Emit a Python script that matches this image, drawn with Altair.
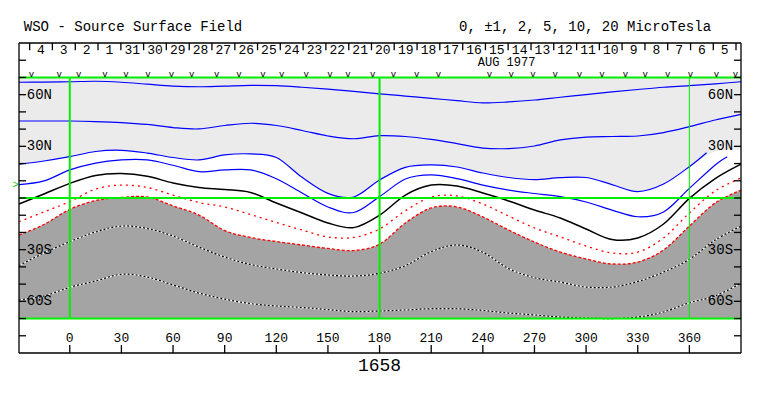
import altair as alt
import pandas as pd

FONT = "Liberation Mono"
INTERP = "cardinal"

# ---- contour data (latitude in degrees) ----
LON = [-29.5, -15, 0, 15, 30, 45, 60, 75, 90, 105, 120, 135, 150, 165, 180,
       195, 210, 225, 240, 255, 270, 285, 300, 315, 330, 345, 360, 375, 390]

BLUE_1 = [67.2, 67.3, 67.5, 67.8, 67.2, 66.1, 65.0, 64.6, 65.0, 65.4, 65.2, 64.3, 63.2, 61.9, 60.5,
          59.2, 57.9, 56.5, 55.2, 55.8, 56.9, 58.5, 60.0, 61.6, 63.0, 64.3, 65.2, 66.3, 67.5]
BLUE_2 = [44.7, 44.7, 44.7, 44.4, 43.8, 42.7, 40.9, 40.1, 42.1, 43.4, 42.1, 39.2, 36.0, 34.4, 36.2,
          35.7, 34.0, 31.6, 29.0, 28.7, 30.2, 33.7, 35.4, 35.7, 36.0, 38.0, 41.4, 45.3, 48.6]
BLUE_3_LON = LON[:-2] + [370]
BLUE_3 = [19.6, 21.5, 24.0, 27.0, 27.7, 26.1, 23.5, 22.1, 25.0, 25.6, 23.5, 12.0, 2.7, 0.6, 10.5,
          17.8, 19.2, 18.0, 14.5, 11.9, 10.7, 11.8, 11.9, 7.8, 3.7, 8.1, 18.2, 26.3]
BLUE_4_LON = LON[:-1] + [382]
BLUE_4 = [7.8, 9.9, 16.3, 20.3, 22.1, 22.1, 19.0, 15.3, 16.3, 16.3, 11.2, 2.9, -5.2, -8.4, 0.8,
          11.0, 13.4, 11.3, 7.5, 4.6, 2.6, 0.8, -2.3, -7.0, -10.9, -8.1, 5.6, 19.2, 24.0]
NEUTRAL = [-3.5, 2.3, 8.5, 13.1, 14.2, 12.6, 8.7, 6.1, 4.9, 3.2, -2.9, -8.7, -14.5, -17.2, -10.0,
           1.7, 7.5, 7.0, 2.9, -1.7, -7.0, -11.6, -18.0, -24.1, -23.2, -15.1, -0.2, 11.3, 19.7]
RED_1 = [-13.8, -8.1, -2.1, 5.2, 7.5, 6.1, 1.7, -2.6, -5.2, -9.6, -14.2, -18.6, -22.6, -22.9, -18.0,
         -7.4, 0.6, 1.2, -3.5, -10.5, -17.4, -22.6, -27.9, -31.9, -31.4, -23.2, -8.7, 4.1, 11.6]
RED_2 = [-21.5, -15.4, -6.6, -1.5, 0.3, 0.6, -4.6, -9.9, -18.9, -22.9, -25.3, -27.3, -29.3, -30.5, -26.8,
         -14.5, -5.8, -5.2, -11.0, -18.6, -25.6, -31.4, -35.4, -38.3, -37.2, -30.2, -16.3, -2.9, 4.6]
DOT_1 = [-39.2, -31.9, -25.4, -19.7, -16.3, -17.7, -22.1, -28.5, -34.3, -38.6, -41.2, -43.3, -44.7, -45.3, -43.7,
         -39.3, -31.2, -27.3, -31.5, -41.0, -46.3, -48.8, -51.7, -51.7, -48.5, -43.0, -35.6, -24.4, -16.3]
DOT_2 = [-59.2, -56.9, -51.9, -48.2, -44.3, -45.9, -50.5, -55.2, -58.7, -61.3, -62.7, -63.6, -64.8, -66.0, -65.6,
         -65.0, -64.3, -64.3, -65.3, -66.8, -67.9, -69.1, -69.7, -70.0, -69.1, -66.2, -60.8, -56.9, -49.5]
LIGHT_EDGE = BLUE_3[:-1] + [27.0, 28.0]

# ---- annotation data ----
DAY_LABELS = ["4", "3", "2", "1", "31", "30", "29", "28", "27", "26", "25", "24", "23", "22", "21",
              "20", "19", "18", "17", "16", "15", "14", "13", "12", "11", "10", "9", "8", "7", "6", "5"]
DAY_CENTERS = [-16.7, -3.5, 9.8, 23.0, 36.3, 49.5, 62.8, 76.0, 89.2, 102.5, 115.7, 129.0, 142.2, 155.4,
               168.7, 181.9, 195.2, 208.4, 221.6, 234.9, 248.1, 261.4, 274.6, 287.8, 301.1, 314.3,
               327.6, 340.8, 354.0, 367.3, 380.5]
DAY_BOUNDS = [-23.3, -10.1, 3.2, 16.4, 29.7, 42.9, 56.1, 69.4, 82.6, 95.9, 109.1, 122.3, 135.6, 148.8,
              162.1, 175.3, 188.5, 201.8, 215.0, 228.3, 241.5, 254.7, 268.0, 281.2, 294.5, 307.7,
              320.9, 334.2, 347.4, 360.7, 373.9, 387.1]
OBS_MARKS = [-22.3, -6.2, 5.2, 20.4, 32.6, 45.4, 59.1, 70.8, 85.3, 98.3, 112.2, 123.1, 137.3, 151.2,
             161.7, 176.0, 188.0, 201.6, 214.2, 243.9, 256.5, 269.1, 282.1, 296.2, 309.2, 322.8,
             334.4, 347.4, 360.6, 375.7, 386.8]
LON_TICKS = [0, 30, 60, 90, 120, 150, 180, 210, 240, 270, 300, 330, 360]
LAT_TICKS = [-80, -70, -60, -50, -40, -30, -20, -10, 0, 10, 20, 30, 40, 50, 60, 70, 80]
LAT_LABELS = ["60N", "30N", "30S", "60S"]
LAT_LABEL_VALUES = [60, 30, -30, -60]
TITLE_LEFT = "WSO - Source Surface Field"
TITLE_RIGHT = "0, \u00b11, 2, 5, 10, 20 MicroTesla"
MONTH = "AUG 1977"
ROTATION = "1658"

XMIN, XMAX, YMIN, YMAX = -29.5, 390, -90, 90

xs = alt.Scale(domain=[XMIN, XMAX], nice=False, zero=False)
ys = alt.Scale(domain=[YMIN, YMAX], nice=False, zero=False)


def X(f):
    return alt.X(f, type="quantitative", scale=xs, axis=None)


def Y(f):
    return alt.Y(f, type="quantitative", scale=ys, axis=None)


def curve_df(items):
    rows = []
    for name, lons, lats in items:
        for lo, la in zip(lons, lats):
            rows.append({"curve": name, "lon": lo, "lat": la})
    return pd.DataFrame(rows)


fill_df = pd.DataFrame({"lon": LON, "light": LIGHT_EDGE, "dark": RED_2,
                        "top": [70] * len(LON), "bottom": [-70] * len(LON)})

light = alt.Chart(fill_df).mark_area(color="#ebebeb", interpolate=INTERP).encode(
    x=X("lon"), y=Y("top"), y2="light")
dark = alt.Chart(fill_df).mark_area(color="#a4a4a4", interpolate=INTERP).encode(
    x=X("lon"), y=Y("bottom"), y2="dark")

blue_df = curve_df([("b1", LON, BLUE_1), ("b2", LON, BLUE_2),
                    ("b3", BLUE_3_LON, BLUE_3), ("b4", BLUE_4_LON, BLUE_4)])
blue = alt.Chart(blue_df).mark_line(color="#0000ff", strokeWidth=1.2, interpolate=INTERP).encode(
    x=X("lon"), y=Y("lat"), detail="curve")
black = alt.Chart(curve_df([("n", LON, NEUTRAL)])).mark_line(
    color="black", strokeWidth=1.5, interpolate=INTERP).encode(x=X("lon"), y=Y("lat"))
red1 = alt.Chart(curve_df([("r1", LON, RED_1)])).mark_line(
    color="#ff0000", strokeWidth=1.3, strokeDash=[2, 4], interpolate=INTERP).encode(x=X("lon"), y=Y("lat"))
red2 = alt.Chart(curve_df([("r2", LON, RED_2)])).mark_line(
    color="#ff0000", strokeWidth=1.3, strokeDash=[3, 2], interpolate=INTERP).encode(x=X("lon"), y=Y("lat"))
dots_df = curve_df([("d1", LON, DOT_1), ("d2", LON, DOT_2)])
dots_w = alt.Chart(dots_df).mark_line(color="white", strokeWidth=1.2, interpolate=INTERP).encode(
    x=X("lon"), y=Y("lat"), detail="curve")
dots_b = alt.Chart(dots_df).mark_line(color="black", strokeWidth=1.2, strokeDash=[2, 2],
                                      interpolate=INTERP).encode(x=X("lon"), y=Y("lat"), detail="curve")

# green reference lines
green_rows = []
for lo, w in zip([0, 180, 360], [2, 2, 1]):
    green_rows.append({"lon": lo, "lon2": lo, "lat": -70, "lat2": 70, "w": w})
for la in [70, 0, -70]:
    green_rows.append({"lon": XMIN, "lon2": XMAX, "lat": la, "lat2": la, "w": 2})
green = alt.Chart(pd.DataFrame(green_rows)).mark_rule(color="#00ee00").encode(
    x=X("lon"), x2="lon2", y=Y("lat"), y2="lat2", strokeWidth=alt.StrokeWidth("w:Q", scale=None))

# frame and ticks
tick_rows = [
    {"lon": XMIN, "lon2": XMAX, "lat": YMAX, "lat2": YMAX},
    {"lon": XMIN, "lon2": XMAX, "lat": YMIN, "lat2": YMIN},
    {"lon": XMIN, "lon2": XMIN, "lat": YMIN, "lat2": YMAX},
    {"lon": XMAX, "lon2": XMAX, "lat": YMIN, "lat2": YMAX},
]
for la in LAT_TICKS:
    tick_rows.append({"lon": XMIN, "lon2": XMIN + 4.1, "lat": la, "lat2": la})
    tick_rows.append({"lon": XMAX - 4.1, "lon2": XMAX, "lat": la, "lat2": la})
for lo in LON_TICKS:
    tick_rows.append({"lon": lo, "lon2": lo, "lat": YMIN, "lat2": YMIN + 4.6})
for lo in DAY_BOUNDS:
    tick_rows.append({"lon": lo, "lon2": lo, "lat": YMAX, "lat2": YMAX - 4.2})
ticks = alt.Chart(pd.DataFrame(tick_rows)).mark_rule(color="black", strokeWidth=1.3).encode(
    x=X("lon"), x2="lon2", y=Y("lat"), y2="lat2")


def text_layer(lons, lats, texts, size=14, align="center", color="black"):
    df = pd.DataFrame({"lon": lons, "lat": lats, "t": texts})
    return alt.Chart(df).mark_text(font=FONT, fontSize=size, align=align, baseline="middle",
                                   color=color).encode(x=X("lon"), y=Y("lat"), text="t:N")


t_title_l = text_layer([-26.7], [99.3], [TITLE_LEFT], align="left")
t_title_r = text_layer([372.6], [99.3], [TITLE_RIGHT], align="right")
t_days = text_layer(DAY_CENTERS, [86.2] * len(DAY_CENTERS), DAY_LABELS, size=13)
t_month = text_layer([253.8], [78.8], [MONTH], size=12)
t_obs = text_layer(OBS_MARKS, [72.0] * len(OBS_MARKS), ["v"] * len(OBS_MARKS), size=9)
t_lat_l = text_layer([-25.0] * 4, LAT_LABEL_VALUES, LAT_LABELS, align="left")
t_lat_r = text_layer([385.4] * 4, LAT_LABEL_VALUES, LAT_LABELS, align="right")
t_lon = text_layer(LON_TICKS, [-81.0] * len(LON_TICKS), [str(v) for v in LON_TICKS], size=13)
t_rot = text_layer([180], [-97.8], [ROTATION], size=18)
t_mark = text_layer([XMIN - 0.3], [7.5], [">"], size=10, align="right", color="#00cc00")

chart = alt.layer(
    light, dark, blue, black, red1, red2, dots_w, dots_b, green, ticks,
    t_title_l, t_title_r, t_days, t_month, t_obs, t_lat_l, t_lat_r, t_lon, t_rot, t_mark,
).properties(
    width=722, height=310,
    padding={"left": 11, "top": 35, "right": 10, "bottom": 30},
    autosize=alt.AutoSizeParams(type="none"),
    background="white",
).configure_view(strokeWidth=0)

chart.save("out.html", embed_options={"renderer": "svg", "actions": False})
